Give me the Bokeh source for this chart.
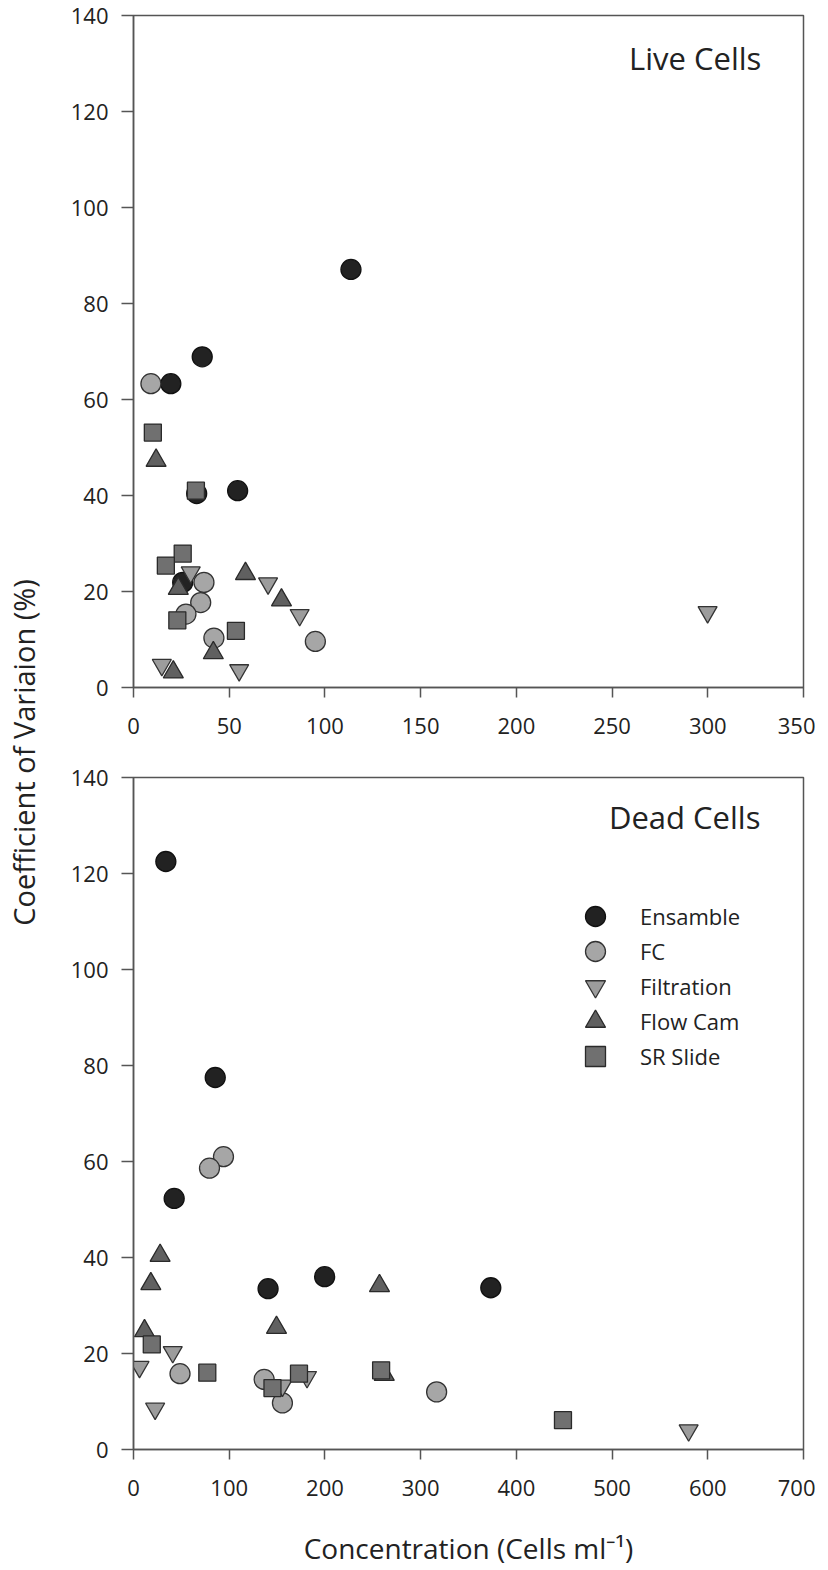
import math
from bokeh.plotting import figure
from bokeh.models import Range1d, Legend, LegendItem, Label, FixedTicker
from bokeh.layouts import row, column
from bokeh.embed import file_html
from bokeh.resources import INLINE

FONT = "Open Sans"

# ---------------- data ----------------
series = ["Ensamble", "FC", "Filtration", "Flow Cam", "SR Slide"]

# Live cells (top panel)
live_ensamble_x = [113.6, 35.9, 19.5, 33.0, 54.4, 25.7]
live_ensamble_y = [87.1, 68.9, 63.3, 40.4, 41.0, 21.9]
live_fc_x = [9.1, 36.8, 35.1, 27.4, 42.0, 95.0]
live_fc_y = [63.3, 21.9, 17.7, 15.3, 10.3, 9.6]
live_filtration_x = [29.9, 70.3, 86.8, 14.8, 55.2, 299.9]
live_filtration_y = [24.0, 21.7, 15.1, 4.7, 3.6, 15.7]
live_flowcam_x = [11.8, 23.4, 58.5, 77.3, 41.7, 20.8]
live_flowcam_y = [47.3, 20.6, 23.7, 18.2, 7.2, 3.2]
live_srslide_x = [10.1, 32.6, 25.7, 16.9, 22.9, 53.5]
live_srslide_y = [53.1, 41.0, 27.9, 25.4, 14.0, 11.8]

# Dead cells (bottom panel)
dead_ensamble_x = [33.8, 85.4, 42.5, 140.6, 199.7, 373.3]
dead_ensamble_y = [122.5, 77.5, 52.3, 33.5, 36.0, 33.7]
dead_fc_x = [94.0, 79.4, 48.6, 136.5, 155.6, 316.7]
dead_fc_y = [61.0, 58.6, 15.8, 14.6, 9.7, 12.0]
dead_filtration_x = [6.3, 41.0, 22.6, 155.6, 181.3, 580.0]
dead_filtration_y = [17.2, 20.3, 8.5, 13.3, 15.1, 4.0]
dead_flowcam_x = [27.8, 18.1, 11.5, 149.4, 257.0, 262.0]
dead_flowcam_y = [40.4, 34.5, 24.7, 25.4, 34.1, 15.6]
dead_srslide_x = [19.1, 77.1, 145.2, 172.9, 258.7, 448.7]
dead_srslide_y = [21.9, 16.0, 12.8, 15.8, 16.5, 6.1]

live_ticks_x = [0, 50, 100, 150, 200, 250, 300, 350]
dead_ticks_x = [0, 100, 200, 300, 400, 500, 600, 700]
ticks_y = [0, 20, 40, 60, 80, 100, 120, 140]

# ---------------- styles ----------------
markers = ["circle", "circle", "inverted_triangle", "triangle", "square"]
fills = ["#222222", "#a6a6a6", "#9c9c9c", "#606060", "#707070"]
edges = ["#111111", "#333333", "#333333", "#2a2a2a", "#2a2a2a"]
sizes = [20, 20, 19, 20, 17]

AX = "#555555"
TXT = "#222222"


def style(p, xt):
    p.grid.visible = False
    p.outline_line_color = AX
    p.outline_line_width = 1.5
    for ax in p.axis:
        ax.axis_line_color = AX
        ax.axis_line_width = 1.5
        ax.major_tick_line_color = AX
        ax.major_tick_line_width = 1.5
        ax.minor_tick_line_color = None
        ax.major_tick_in = 0
        ax.major_label_text_font = FONT
        ax.major_label_text_font_size = "22px"
        ax.major_label_text_color = TXT
    p.xaxis.ticker = FixedTicker(ticks=xt)
    p.yaxis.ticker = FixedTicker(ticks=ticks_y)
    p.xaxis.major_tick_out = 10
    p.yaxis.major_tick_out = 12
    p.xaxis.major_label_standoff = 20
    p.yaxis.major_label_standoff = 13


def add_series(p, xs_list, ys_list):
    rs = []
    for xs, ys, m, f, e, s in zip(xs_list, ys_list, markers, fills, edges, sizes):
        r = p.scatter(xs, ys, marker=m, size=s, fill_color=f, line_color=e, line_width=1.3)
        rs.append(r)
    return rs


# ---------------- top panel ----------------
p1 = figure(frame_width=670, frame_height=672, x_range=Range1d(0, 350), y_range=Range1d(0, 140),
            output_backend="svg", toolbar_location=None,
            min_border_left=75, min_border_right=12, min_border_top=15, min_border_bottom=60)
style(p1, live_ticks_x)
add_series(p1,
           [live_ensamble_x, live_fc_x, live_filtration_x, live_flowcam_x, live_srslide_x],
           [live_ensamble_y, live_fc_y, live_filtration_y, live_flowcam_y, live_srslide_y])
p1.add_layout(Label(x=328, y=131.2, text="Live Cells", text_align="right", text_baseline="middle",
                    text_font=FONT, text_font_size="31px", text_color=TXT))

# ---------------- bottom panel ----------------
p2 = figure(frame_width=670, frame_height=672, x_range=Range1d(0, 700), y_range=Range1d(0, 140),
            output_backend="svg", toolbar_location=None,
            min_border_left=75, min_border_right=12, min_border_top=30, min_border_bottom=112)
style(p2, dead_ticks_x)
rs = add_series(p2,
                [dead_ensamble_x, dead_fc_x, dead_filtration_x, dead_flowcam_x, dead_srslide_x],
                [dead_ensamble_y, dead_fc_y, dead_filtration_y, dead_flowcam_y, dead_srslide_y])
p2.xaxis.axis_label = "Concentration (Cells ml\u207b\u00b9)"
p2.xaxis.axis_label_text_font = FONT
p2.xaxis.axis_label_text_font_size = "28px"
p2.xaxis.axis_label_text_font_style = "normal"
p2.xaxis.axis_label_text_color = TXT
p2.xaxis.axis_label_standoff = 30
p2.add_layout(Label(x=655, y=131.7, text="Dead Cells", text_align="right", text_baseline="middle",
                    text_font=FONT, text_font_size="31px", text_color=TXT))

# one single-item legend per series so that item pitch can be tighter than the glyph box
for i, (n, r) in enumerate(zip(series, rs)):
    leg = Legend(items=[LegendItem(label=n, renderers=[r])],
                 location=(437, 508 - 35 * i), glyph_width=50, glyph_height=50,
                 padding=0, margin=0, label_standoff=20, border_line_color=None,
                 background_fill_alpha=0, label_text_font=FONT, label_text_font_size="22px",
                 label_text_color=TXT, label_text_baseline="middle")
    p2.add_layout(leg)

# ---------------- shared y-axis title ----------------
H = 747 + 814
pl = figure(width=58, height=H, x_range=Range1d(0, 58), y_range=Range1d(0, H),
            output_backend="svg", toolbar_location=None, min_border=0,
            x_axis_type=None, y_axis_type=None)
pl.outline_line_color = None
pl.grid.visible = False
pl.add_layout(Label(x=23, y=H - 752, text="Coefficient of Variaion (%)", angle=math.pi / 2,
                    text_align="center", text_baseline="middle", text_font=FONT,
                    text_font_size="29px", text_color=TXT))

layout = row(pl, column(p1, p2))
open("out.html", "w").write(file_html(layout, INLINE))
